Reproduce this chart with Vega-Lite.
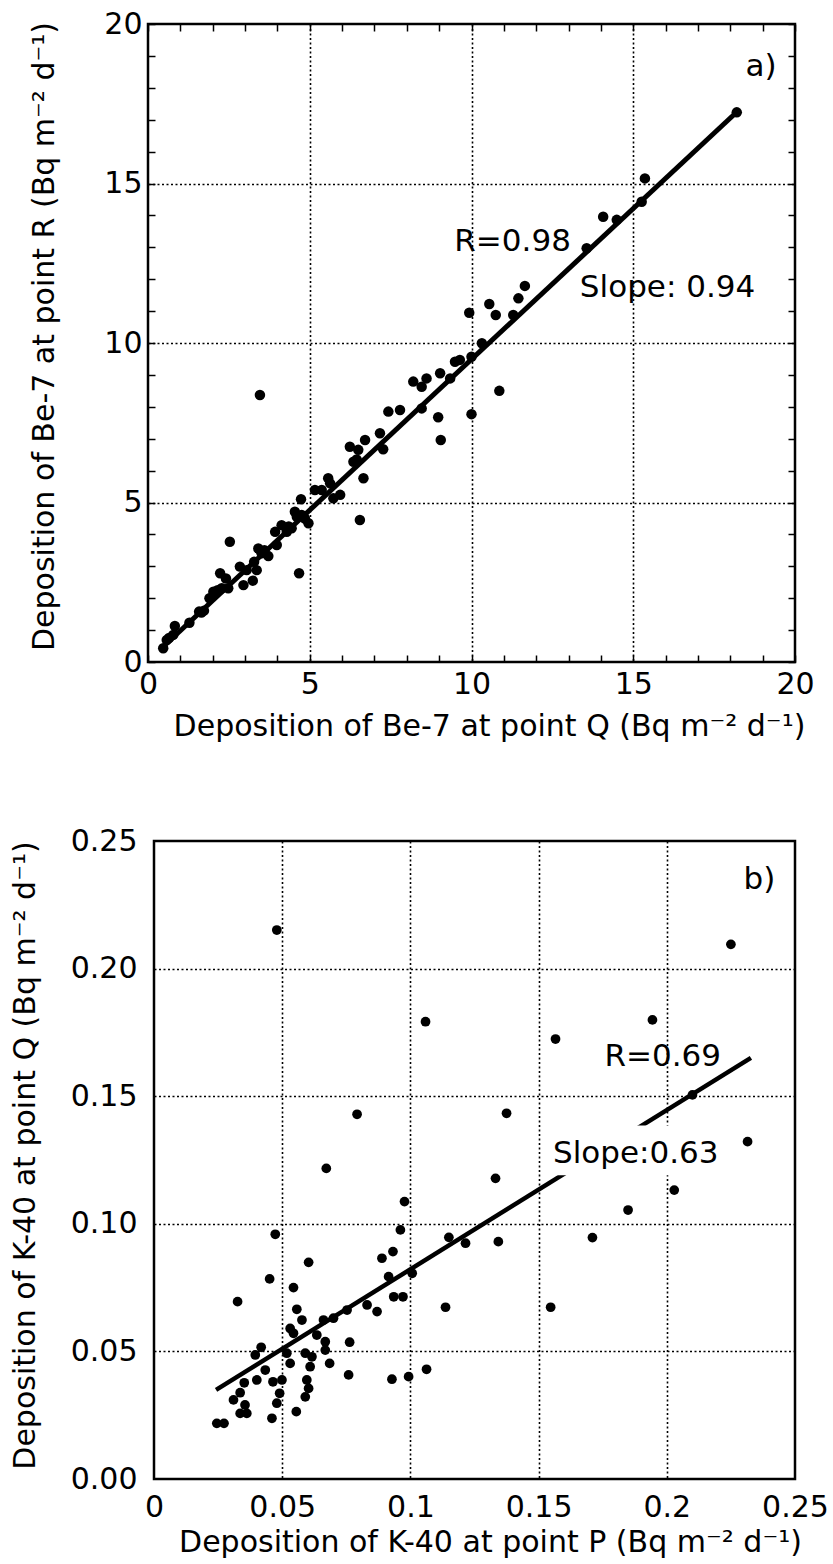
{
  "$schema": "https://vega.github.io/schema/vega-lite/v6.json",
  "autosize": {"type": "none"},
  "padding": {"left": 148, "top": 24, "right": 685, "bottom": 1540},
  "background": "white",
  "datasets": {
    "be7": [
      {"q":0.47,"r":0.43},{"q":0.58,"r":0.69},{"q":0.65,"r":0.75},{"q":0.78,"r":0.85},{"q":0.83,"r":1.13},
      {"q":1.28,"r":1.23},{"q":1.58,"r":1.58},{"q":1.65,"r":1.55},{"q":1.73,"r":1.61},{"q":1.90,"r":2.00},
      {"q":2.02,"r":2.20},{"q":2.15,"r":2.25},{"q":2.23,"r":2.78},{"q":2.28,"r":2.31},{"q":2.48,"r":2.31},
      {"q":2.41,"r":2.62},{"q":2.53,"r":3.77},{"q":2.84,"r":2.99},{"q":2.95,"r":2.41},{"q":3.05,"r":2.88},
      {"q":3.24,"r":2.55},{"q":3.36,"r":2.88},{"q":3.28,"r":3.14},{"q":3.41,"r":3.56},{"q":3.46,"r":8.37},
      {"q":3.51,"r":3.41},{"q":3.60,"r":3.50},{"q":3.72,"r":3.32},{"q":3.93,"r":4.08},{"q":3.98,"r":3.67},
      {"q":4.13,"r":4.29},{"q":4.29,"r":4.08},{"q":4.35,"r":4.25},{"q":4.44,"r":4.19},{"q":4.54,"r":4.71},
      {"q":4.60,"r":4.55},{"q":4.67,"r":2.78},{"q":4.73,"r":5.10},{"q":4.75,"r":4.61},{"q":4.85,"r":4.50},
      {"q":4.96,"r":4.35},{"q":5.16,"r":5.39},{"q":5.37,"r":5.39},{"q":5.57,"r":5.76},{"q":5.63,"r":5.60},
      {"q":5.73,"r":5.13},{"q":5.94,"r":5.24},{"q":6.24,"r":6.75},{"q":6.35,"r":6.28},{"q":6.45,"r":6.35},
      {"q":6.50,"r":6.65},{"q":6.55,"r":4.45},{"q":6.66,"r":5.76},{"q":6.71,"r":6.96},{"q":7.17,"r":7.17},
      {"q":7.27,"r":6.67},{"q":7.43,"r":7.85},{"q":7.79,"r":7.90},{"q":8.20,"r":8.79},{"q":8.46,"r":8.63},
      {"q":8.61,"r":8.89},{"q":8.46,"r":7.95},{"q":8.97,"r":7.67},{"q":9.03,"r":9.05},{"q":9.05,"r":6.96},
      {"q":9.34,"r":8.89},{"q":9.49,"r":9.41},{"q":9.64,"r":9.47},{"q":10.0,"r":9.57},{"q":10.0,"r":7.77},
      {"q":10.86,"r":8.50},{"q":10.32,"r":9.99},{"q":9.93,"r":10.95},{"q":10.55,"r":11.22},{"q":10.75,"r":10.88},
      {"q":11.29,"r":10.88},{"q":11.45,"r":11.40},{"q":11.65,"r":11.79},{"q":13.56,"r":12.97},{"q":14.07,"r":13.96},
      {"q":14.49,"r":13.86},{"q":15.26,"r":14.43},{"q":15.36,"r":15.16},{"q":18.2,"r":17.23}
    ],
    "be7fit": [{"q":0.46,"r":0.47},{"q":18.2,"r":17.24}],
    "be7lab": [
      {"x":18.95,"y":18.65,"label":"a)"},
      {"x":11.27,"y":13.17,"label":"R=0.98"},
      {"x":16.06,"y":11.72,"label":"Slope: 0.94"}
    ],
    "k40": [
      {"p":0.0479,"q":0.2151},{"p":0.0792,"q":0.1429},{"p":0.2250,"q":0.2095},{"p":0.1059,"q":0.1792},
      {"p":0.1566,"q":0.1724},{"p":0.1944,"q":0.1799},{"p":0.2100,"q":0.1505},{"p":0.1375,"q":0.1433},
      {"p":0.2315,"q":0.1322},{"p":0.1332,"q":0.1178},{"p":0.0977,"q":0.1087},{"p":0.2029,"q":0.1132},
      {"p":0.1849,"q":0.1054},{"p":0.0961,"q":0.0976},{"p":0.1150,"q":0.0947},{"p":0.1215,"q":0.0924},
      {"p":0.1343,"q":0.0930},{"p":0.1710,"q":0.0946},{"p":0.1007,"q":0.0806},{"p":0.0971,"q":0.0714},
      {"p":0.1137,"q":0.0673},{"p":0.1547,"q":0.0673},{"p":0.1063,"q":0.0430},{"p":0.0993,"q":0.0401},
      {"p":0.0672,"q":0.1217},{"p":0.0473,"q":0.0959},{"p":0.0603,"q":0.0849},{"p":0.0889,"q":0.0865},
      {"p":0.0932,"q":0.0891},{"p":0.0451,"q":0.0784},{"p":0.0544,"q":0.0750},{"p":0.0326,"q":0.0695},
      {"p":0.0915,"q":0.0793},{"p":0.0935,"q":0.0714},{"p":0.0831,"q":0.0682},{"p":0.0870,"q":0.0656},
      {"p":0.0557,"q":0.0665},{"p":0.0577,"q":0.0623},{"p":0.0753,"q":0.0662},{"p":0.0661,"q":0.0623},
      {"p":0.0700,"q":0.0630},{"p":0.0544,"q":0.0571},{"p":0.0531,"q":0.0590},{"p":0.0635,"q":0.0564},
      {"p":0.0668,"q":0.0538},{"p":0.0763,"q":0.0536},{"p":0.0518,"q":0.0493},{"p":0.0531,"q":0.0453},
      {"p":0.0668,"q":0.0505},{"p":0.0590,"q":0.0493},{"p":0.0616,"q":0.0479},{"p":0.0685,"q":0.0453},
      {"p":0.0418,"q":0.0516},{"p":0.0395,"q":0.0486},{"p":0.0434,"q":0.0427},{"p":0.0401,"q":0.0388},
      {"p":0.0352,"q":0.0377},{"p":0.0464,"q":0.0381},{"p":0.0499,"q":0.0388},{"p":0.0609,"q":0.0440},
      {"p":0.0596,"q":0.0388},{"p":0.0603,"q":0.0355},{"p":0.0590,"q":0.0322},{"p":0.0759,"q":0.0408},
      {"p":0.0928,"q":0.0391},{"p":0.0336,"q":0.0338},{"p":0.0310,"q":0.0310},{"p":0.0355,"q":0.0290},
      {"p":0.0336,"q":0.0257},{"p":0.0362,"q":0.0257},{"p":0.0479,"q":0.0297},{"p":0.0490,"q":0.0336},
      {"p":0.0460,"q":0.0238},{"p":0.0555,"q":0.0264},{"p":0.0245,"q":0.0218},{"p":0.0273,"q":0.0218}
    ],
    "k40fit": [{"p":0.0242,"q":0.0349},{"p":0.2328,"q":0.1650}],
    "k40box": [{"x":0.152,"x2":0.223,"y":0.119,"y2":0.1385}],
    "k40lab": [
      {"x":0.2361,"y":0.2347,"label":"b)"},
      {"x":0.1984,"y":0.1654,"label":"R=0.69"},
      {"x":0.1879,"y":0.1274,"label":"Slope:0.63"}
    ]
  },
  "bounds": "flush",
  "spacing": 179,
  "vconcat": [
    {
      "width": 647,
      "height": 638,
      "resolve": {"axis": {"x": "independent", "y": "independent"}},
      "layer": [
        {
          "data": {"name": "be7"},
          "mark": {"type": "circle", "size": 110, "color": "black", "opacity": 1},
          "encoding": {
            "x": {
              "field": "q", "type": "quantitative",
              "scale": {"domain": [0, 20], "nice": false},
              "title": "Deposition of Be-7 at point Q (Bq m⁻² d⁻¹)",
              "axis": {
                "orient": "bottom",
                "values": [0,1,2,3,4,5,6,7,8,9,10,11,12,13,14,15,16,17,18,19,20],
                "labelExpr": "datum.value % 5 === 0 ? datum.label : ''",
                "labelFlush": false, "labelOverlap": false, "labelBound": false,
                "tickSize": -7, "tickWidth": 1.5, "labelPadding": 14,
                "grid": true,
                "gridOpacity": {"condition": {"test": "datum.value % 5 === 0 && datum.value > 0 && datum.value < 20", "value": 1}, "value": 0},
                "titlePadding": 12, "titleX": 341
              }
            },
            "y": {
              "field": "r", "type": "quantitative",
              "scale": {"domain": [0, 20], "nice": false},
              "title": "Deposition of Be-7 at point R (Bq m⁻² d⁻¹)",
              "axis": {
                "orient": "left",
                "values": [0,1,2,3,4,5,6,7,8,9,10,11,12,13,14,15,16,17,18,19,20],
                "labelExpr": "datum.value % 5 === 0 ? datum.label : ''",
                "labelFlush": false, "labelOverlap": false, "labelBound": false,
                "tickSize": -7, "tickWidth": 1.5, "labelPadding": 13,
                "grid": true,
                "gridOpacity": {"condition": {"test": "datum.value % 5 === 0 && datum.value > 0 && datum.value < 20", "value": 1}, "value": 0},
                "titlePadding": 44, "titleY": 312
              }
            }
          }
        },
        {
          "data": {"name": "be7fit"},
          "mark": {"type": "line", "color": "black", "strokeWidth": 5},
          "encoding": {
            "x": {
              "field": "q", "type": "quantitative",
              "scale": {"domain": [0, 20], "nice": false},
              "title": null,
              "axis": {"orient": "top", "values": [0,1,2,3,4,5,6,7,8,9,10,11,12,13,14,15,16,17,18,19,20], "labels": false, "tickSize": -7, "tickWidth": 1.5, "grid": false}
            },
            "y": {
              "field": "r", "type": "quantitative",
              "scale": {"domain": [0, 20], "nice": false},
              "title": null,
              "axis": {"orient": "right", "values": [0,1,2,3,4,5,6,7,8,9,10,11,12,13,14,15,16,17,18,19,20], "labels": false, "tickSize": -7, "tickWidth": 1.5, "grid": false}
            }
          }
        },
        {
          "data": {"name": "be7lab"},
          "mark": {"type": "text", "fontSize": 31, "font": "DejaVu Sans", "color": "black", "align": "center", "baseline": "middle"},
          "encoding": {
            "x": {"field": "x", "type": "quantitative", "scale": {"domain": [0, 20], "nice": false}, "axis": null},
            "y": {"field": "y", "type": "quantitative", "scale": {"domain": [0, 20], "nice": false}, "axis": null},
            "text": {"field": "label"}
          }
        }
      ]
    },
    {
      "bounds": "flush",
      "spacing": 0,
      "hconcat": [
        {
          "width": 6,
          "height": 638,
          "view": {"stroke": null},
          "data": {"values": []},
          "mark": "point"
        },
        {
          "width": 641,
          "height": 638,
          "layer": [
            {
              "data": {"name": "k40"},
              "mark": {"type": "circle", "size": 95, "color": "black", "opacity": 1},
              "encoding": {
                "x": {
                  "field": "p", "type": "quantitative",
                  "scale": {"domain": [0, 0.25], "nice": false},
                  "title": "Deposition of K-40 at point P (Bq m⁻² d⁻¹)",
                  "axis": {
                    "orient": "bottom",
                    "values": [0, 0.05, 0.1, 0.15, 0.2, 0.25],
                    "format": "~g",
                    "labelFlush": false, "labelOverlap": false, "labelBound": false,
                    "ticks": false, "labelPadding": 13,
                    "grid": true,
                    "gridOpacity": {"condition": {"test": "datum.value > 0.001 && datum.value < 0.249", "value": 1}, "value": 0},
                    "titlePadding": 5, "titleX": 336
                  }
                },
                "y": {
                  "field": "q", "type": "quantitative",
                  "scale": {"domain": [0, 0.25], "nice": false},
                  "title": "Deposition of K-40 at point Q (Bq m⁻² d⁻¹)",
                  "axis": {
                    "orient": "left",
                    "values": [0, 0.05, 0.1, 0.15, 0.2, 0.25],
                    "format": ".2f",
                    "labelFlush": false, "labelOverlap": false, "labelBound": false,
                    "ticks": false, "labelPadding": 17,
                    "grid": true,
                    "gridOpacity": {"condition": {"test": "datum.value > 0.001 && datum.value < 0.249", "value": 1}, "value": 0},
                    "titlePadding": 30, "titleY": 314
                  }
                }
              }
            },
            {
              "data": {"name": "k40fit"},
              "mark": {"type": "line", "color": "black", "strokeWidth": 4.5},
              "encoding": {
                "x": {"field": "p", "type": "quantitative", "scale": {"domain": [0, 0.25], "nice": false}},
                "y": {"field": "q", "type": "quantitative", "scale": {"domain": [0, 0.25], "nice": false}}
              }
            },
            {
              "data": {"name": "k40box"},
              "mark": {"type": "rect", "color": "white", "opacity": 1},
              "encoding": {
                "x": {"field": "x", "type": "quantitative", "scale": {"domain": [0, 0.25], "nice": false}},
                "x2": {"field": "x2"},
                "y": {"field": "y", "type": "quantitative", "scale": {"domain": [0, 0.25], "nice": false}},
                "y2": {"field": "y2"}
              }
            },
            {
              "data": {"name": "k40lab"},
              "mark": {"type": "text", "fontSize": 31, "font": "DejaVu Sans", "color": "black", "align": "center", "baseline": "middle"},
              "encoding": {
                "x": {"field": "x", "type": "quantitative", "scale": {"domain": [0, 0.25], "nice": false}},
                "y": {"field": "y", "type": "quantitative", "scale": {"domain": [0, 0.25], "nice": false}},
                "text": {"field": "label"}
              }
            }
          ]
        }
      ]
    }
  ],
  "config": {
    "font": "DejaVu Sans",
    "view": {"stroke": "black", "strokeWidth": 2.5},
    "axis": {
      "labelFont": "DejaVu Sans", "labelFontSize": 30, "labelColor": "black",
      "titleFont": "DejaVu Sans", "titleFontSize": 30, "titleFontWeight": "normal", "titleColor": "black",
      "domain": false,
      "gridColor": "black", "gridDash": [2, 2.5], "gridWidth": 1.6,
      "tickColor": "black"
    }
  }
}
